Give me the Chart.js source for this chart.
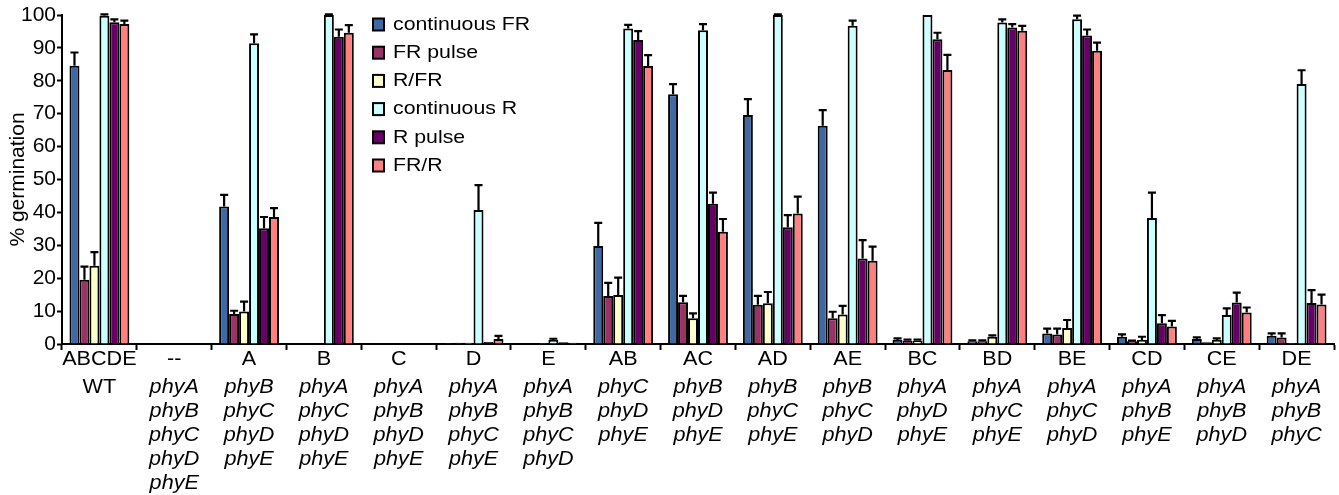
<!DOCTYPE html>
<html>
<head>
<meta charset="utf-8">
<script src="https://cdn.jsdelivr.net/npm/chart.js@4/dist/chart.umd.min.js"></script>
<style>
  body { margin: 0; background: #fff; }
  #wrap { width: 1339px; height: 495px; position: relative; }
</style>
</head>
<body>
<div id="wrap"><canvas id="myChart"></canvas></div>
<script>
// groups (combination of phytochromes present) and the genotype lines below them
const categories = ["ABCDE", "--", "A", "B", "C", "D", "E", "AB", "AC", "AD", "AE", "BC", "BD", "BE", "CD", "CE", "DE"];
const genotypes = [
  ["WT"],
  ["phyA", "phyB", "phyC", "phyD", "phyE"],
  ["phyB", "phyC", "phyD", "phyE"],
  ["phyA", "phyC", "phyD", "phyE"],
  ["phyA", "phyB", "phyD", "phyE"],
  ["phyA", "phyB", "phyC", "phyE"],
  ["phyA", "phyB", "phyC", "phyD"],
  ["phyC", "phyD", "phyE"],
  ["phyB", "phyD", "phyE"],
  ["phyB", "phyC", "phyE"],
  ["phyB", "phyC", "phyD"],
  ["phyA", "phyD", "phyE"],
  ["phyA", "phyC", "phyE"],
  ["phyA", "phyC", "phyD"],
  ["phyA", "phyB", "phyE"],
  ["phyA", "phyB", "phyD"],
  ["phyA", "phyB", "phyC"],
];

const seriesNames = ["continuous FR", "FR pulse", "R/FR", "continuous R", "R pulse", "FR/R"];

const continuousFR = [84.6, 0, 41.8, 0, 0, 0.3, 0.2, 29.8, 75.9, 69.6, 66.3, 1.2, 0.8, 3.2, 2.2, 1.5, 2.5];
const continuousFRErr = [4, 0, 3.5, 0, 0, 0, 0, 7, 3.1, 4.8, 4.8, 0.5, 0.3, 1.5, 0.7, 0.5, 0.7];
const frPulse = [19.5, 0, 9.1, 0, 0, 0.4, 0.2, 14.6, 12.7, 11.9, 7.8, 1, 0.8, 2.9, 0.8, 0.5, 2];
const frPulseErr = [4, 0, 1, 0, 0, 0, 0, 4, 1.9, 2.7, 2, 0.3, 0.3, 1.8, 0.2, 0, 1.2];
const rFR = [23.8, 0, 9.9, 0, 0, 0.4, 0.3, 14.9, 7.8, 12.4, 9, 1, 2.2, 4.9, 1.2, 1.2, 0.3];
const rFRErr = [4.1, 0, 3, 0, 0, 0, 0, 5.3, 1.5, 3.4, 2.6, 0.3, 0.4, 2.4, 1, 0.5, 0];
const continuousR = [99.8, 0, 91.4, 100, 0, 40.7, 1.2, 95.9, 95.4, 100, 96.7, 100, 97.7, 98.7, 38.3, 8.8, 79];
const continuousRErr = [0.4, 0, 2.7, 0.2, 0, 7.6, 0.4, 1.1, 1.8, 0.2, 1.6, 0, 1, 1.1, 7.7, 2, 4.2];
const rPulse = [97.8, 0, 35.2, 93.4, 0, 0.6, 0.5, 92.4, 42.6, 35.5, 26, 92.6, 96.2, 93.8, 6.3, 12.6, 12.5];
const rPulseErr = [0.9, 0, 3.4, 2.2, 0, 0, 0, 2.7, 3.4, 3.7, 5.6, 2, 1, 1.8, 2.5, 3, 3.9];
const frR = [97.3, 0, 38.6, 94.6, 0, 1.5, 0.4, 84.5, 34.1, 39.7, 25.3, 83.3, 95.2, 89.1, 5.3, 9.6, 12];
const frRErr = [1, 0, 2.7, 2.3, 0, 1, 0, 3.3, 3.9, 5.1, 4.3, 4.6, 1.5, 2.5, 1.7, 1.5, 3];

const yTicks = [0, 10, 20, 30, 40, 50, 60, 70, 80, 90, 100];

const colors = ["#4169a1", "#993366", "#ffffcc", "#ccffff", "#660066", "#ff8080"];
const values = [continuousFR, frPulse, rFR, continuousR, rPulse, frR];
const errors = [continuousFRErr, frPulseErr, rFRErr, continuousRErr, rPulseErr, frRErr];

const FONT = "Arial, 'Liberation Sans', sans-serif";
const STRETCH = 1.08; // the original figure is a bit wider than tall

const datasets = seriesNames.map((name, i) => ({
  label: name,
  data: values[i],
  errors: errors[i],
  backgroundColor: colors[i],
  borderColor: "#000",
  borderWidth: 2,
  borderSkipped: "bottom",
  categoryPercentage: 0.8,
  barPercentage: 1.0,
}));

function stretchedText(ctx, text, x, y) {
  ctx.save();
  ctx.translate(x, y);
  ctx.scale(STRETCH, 1);
  ctx.fillText(text, 0, 0);
  ctx.restore();
}

// upward error bars with a cap
const errorBars = {
  id: "errorBars",
  afterDatasetsDraw(chart) {
    const ctx = chart.ctx;
    const y = chart.scales.y;
    ctx.save();
    ctx.strokeStyle = "#000";
    ctx.lineWidth = 2.2;
    chart.data.datasets.forEach((ds, di) => {
      const meta = chart.getDatasetMeta(di);
      meta.data.forEach((bar, i) => {
        const e = ds.errors[i];
        if (!e) return;
        const top = y.getPixelForValue(ds.data[i]);
        const tip = y.getPixelForValue(ds.data[i] + e);
        ctx.beginPath();
        ctx.moveTo(bar.x, top);
        ctx.lineTo(bar.x, tip);
        ctx.moveTo(bar.x - 4, tip);
        ctx.lineTo(bar.x + 4, tip);
        ctx.stroke();
      });
    });
    ctx.restore();
  },
};

// legend inside the plot, between the B and C groups
const boxLegend = {
  id: "boxLegend",
  afterDraw(chart) {
    const ctx = chart.ctx;
    const x0 = 373;
    ctx.save();
    ctx.font = "19px " + FONT;
    ctx.textBaseline = "middle";
    chart.data.datasets.forEach((ds, i) => {
      const cy = 24.5 + i * 28.2;
      ctx.fillStyle = ds.backgroundColor;
      ctx.fillRect(x0, cy - 6, 11, 12);
      ctx.strokeStyle = "#000";
      ctx.lineWidth = 2;
      ctx.strokeRect(x0, cy - 6, 11, 12);
      ctx.fillStyle = "#000";
      ctx.save();
      ctx.translate(393, cy);
      ctx.scale(1.12, 1);
      ctx.fillText(ds.label, 0, 0);
      ctx.restore();
    });
    ctx.restore();
  },
};

// group codes and genotype lines under the axis
const groupLabels = {
  id: "groupLabels",
  afterDraw(chart) {
    const ctx = chart.ctx;
    const xs = chart.scales.x;
    const bottom = chart.chartArea.bottom;
    ctx.save();
    ctx.fillStyle = "#000";
    ctx.textAlign = "center";
    ctx.textBaseline = "middle";
    categories.forEach((code, i) => {
      const cx = xs.getPixelForValue(i);
      ctx.font = "20px " + FONT;
      stretchedText(ctx, code, cx, bottom + 15);
      genotypes[i].forEach((t, j) => {
        ctx.font = (t.startsWith("phy") ? "italic " : "") + "20px " + FONT;
        stretchedText(ctx, t, cx, bottom + 43 + j * 24.2);
      });
    });
    ctx.restore();
  },
};

const ctx = document.getElementById("myChart").getContext("2d");
const myChart = new Chart(ctx, {
  type: "bar",
  data: { labels: categories, datasets: datasets },
  plugins: [errorBars, boxLegend, groupLabels],
  options: {
    responsive: true,
    maintainAspectRatio: false,
    animation: false,
    layout: { padding: { top: 15, right: 5, left: 0, bottom: 0 } },
    plugins: {
      legend: { display: false },
      tooltip: { enabled: false },
    },
    scales: {
      x: {
        grid: {
          offset: true,
          drawOnChartArea: false,
          drawTicks: true,
          tickLength: 6,
          tickWidth: 2,
          tickColor: "#000",
        },
        border: { display: true, color: "#000", width: 2 },
        ticks: { display: false, autoSkip: false, maxRotation: 0 },
        afterFit(scale) { scale.height = 151; },
      },
      y: {
        min: 0,
        max: 100,
        afterBuildTicks(scale) { scale.ticks = yTicks.map((v) => ({ value: v })); },
        grid: {
          drawOnChartArea: false,
          drawTicks: true,
          tickLength: 5,
          tickWidth: 2,
          tickColor: "#000",
        },
        border: { display: true, color: "#000", width: 2 },
        ticks: {
          color: "#000",
          font: { family: FONT, size: 21 },
          padding: 1,
        },
        title: {
          display: true,
          text: "% germination",
          color: "#000",
          font: { family: FONT, size: 21 },
          padding: { top: 6, bottom: 0 },
        },
        afterFit(scale) { scale.width = 62; },
      },
    },
  },
});
</script>
</body>
</html>
